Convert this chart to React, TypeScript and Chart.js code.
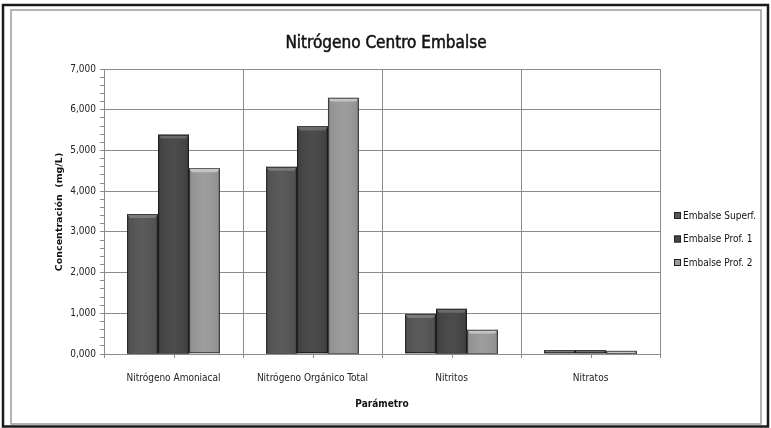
import React, { useEffect, useRef } from "react";
import { Chart, registerables } from "chart.js";

Chart.register(...registerables);

const categories = ["Nitrógeno Amoniacal", "Nitrógeno Orgánico Total", "Nitritos", "Nitratos"];
const seriesNames = ["Embalse Superf.", "Embalse Prof. 1", "Embalse Prof. 2"];
const superf = [3.44, 4.6, 0.98, 0.09];
const prof1 = [5.39, 5.59, 1.11, 0.09];
const prof2 = [4.56, 6.3, 0.6, 0.08];
const seriesColors = ["#565656", "#464646", "#9a9a9a"];
const seriesTopColors = ["#7a7a7a", "#6a6a6a", "#c4c4c4"];
const yMin = 0;
const yMax = 7;
const yStep = 0.2;

const TITLE = "Nitrógeno Centro Embalse";
const Y_TITLE = "Concentración  (mg/L)";
const X_TITLE = "Parámetro";
const NARROW = '"DejaVu Sans Condensed", "Liberation Sans Narrow", Roboto, sans-serif';

const isMajor = (v: number) => Math.abs(v - Math.round(v)) < 1e-6;
const fmt = (v: number) => v.toFixed(3).replace(".", ",");

export default function App() {
  const ref = useRef<HTMLCanvasElement | null>(null);
  useEffect(() => {
    document.body.style.margin = "0";
    const canvas = ref.current!;
    const decor = {
      id: "decor",
      beforeDraw(chart: any) {
        const c = chart.ctx;
        c.save();
        c.fillStyle = "#ffffff";
        c.fillRect(0, 0, chart.width, chart.height);
        c.restore();
      },
      afterDatasetsDraw(chart: any) {
        const c = chart.ctx;
        c.save();
        chart.data.datasets.forEach((ds: any, di: number) => {
          const meta = chart.getDatasetMeta(di);
          meta.data.forEach((bar: any) => {
            const x0 = bar.x - bar.width / 2;
            const x1 = bar.x + bar.width / 2;
            const top = bar.y;
            const bottom = bar.base;
            const h = bottom - top;
            const g = c.createLinearGradient(x0, 0, x1, 0);
            g.addColorStop(0, "rgba(0,0,0,0.3)");
            g.addColorStop(0.08, "rgba(0,0,0,0.05)");
            g.addColorStop(0.5, "rgba(255,255,255,0.03)");
            g.addColorStop(0.92, "rgba(0,0,0,0.05)");
            g.addColorStop(1, "rgba(0,0,0,0.35)");
            c.fillStyle = g;
            c.fillRect(x0, top, x1 - x0, h);
            const bh = Math.min(4, h);
            c.fillStyle = seriesTopColors[di];
            c.beginPath();
            c.moveTo(x0, top);
            c.lineTo(x1, top);
            c.lineTo(x1 - 3, top + bh);
            c.lineTo(x0 + 3, top + bh);
            c.closePath();
            c.fill();
            c.strokeStyle = "rgba(0,0,0,0.5)";
            c.lineWidth = 1;
            c.strokeRect(Math.round(x0) + 0.5, Math.round(top) + 0.5, Math.round(x1 - x0) - 1, Math.round(h) - 1);
          });
        });
        c.restore();
      },
      afterDraw(chart: any) {
        const c = chart.ctx;
        const area = chart.chartArea;
        c.save();
        const xs = chart.scales.x;
        c.strokeStyle = "#8c8c8c";
        c.lineWidth = 1;
        categories.forEach((_, i) => {
          const px = Math.round(xs.getPixelForValue(i)) + 0.5;
          c.beginPath();
          c.moveTo(px, area.bottom);
          c.lineTo(px, area.bottom + 4);
          c.stroke();
        });
        c.fillStyle = "#111";
        c.strokeStyle = "#111";
        c.lineWidth = 0.5;
        c.font = '17px ' + NARROW;
        c.textAlign = "center";
        c.textBaseline = "middle";
        c.fillText(TITLE, 386, 44);
        c.strokeText(TITLE, 386, 44);
        c.save();
        c.translate(60, 212);
        c.rotate(-Math.PI / 2);
        c.font = 'bold 9.5px "DejaVu Sans", sans-serif';
        c.fillStyle = "#111";
        c.fillText(Y_TITLE, 0, 0);
        c.restore();
        c.textAlign = "left";
        c.font = '10px ' + NARROW;
        c.lineWidth = 1;
        seriesNames.forEach((n, i) => {
          const y = 216 + i * 23.5;
          c.fillStyle = seriesColors[i];
          c.fillRect(674, y - 4, 7, 7);
          c.strokeStyle = "#222";
          c.strokeRect(674.5, y - 3.5, 6, 6);
          c.fillStyle = "#111";
          c.fillText(n, 683, y);
        });
        c.strokeStyle = "#1a1a1a";
        c.lineWidth = 2.5;
        c.strokeRect(3, 5, 765, 421.5);
        c.strokeStyle = "#9a9a9a";
        c.lineWidth = 1.5;
        c.strokeRect(11, 10, 750, 414);
        c.restore();
      },
    };
    const chart = new Chart(canvas, {
      type: "bar",
      data: {
        labels: categories,
        datasets: [superf, prof1, prof2].map((d, i) => ({
          label: seriesNames[i],
          data: d,
          backgroundColor: seriesColors[i],
          borderWidth: 0,
          categoryPercentage: 0.667,
          barPercentage: 1,
        })),
      },
      options: {
        responsive: false,
        animation: false,
        events: [],
        layout: { padding: { top: 69, right: 111, left: 0, bottom: 0 } },
        plugins: { legend: { display: false }, title: { display: false }, tooltip: { enabled: false } },
        scales: {
          x: {
            offset: true,
            grid: { offset: true, color: "#8c8c8c", tickColor: "#8c8c8c", tickLength: 4, lineWidth: 1 },
            border: { color: "#8c8c8c" },
            ticks: { color: "#222", font: { family: NARROW, size: 10 }, padding: 14, maxRotation: 0, autoSkip: false },
            title: { display: true, text: X_TITLE, color: "#111", font: { family: NARROW, size: 10, weight: "bold" }, padding: { top: 0, bottom: 18 } },
            afterFit: (s: any) => { s.height = 74; },
          },
          y: {
            min: yMin,
            max: yMax,
            grid: {
              color: (ctx: any) => (ctx.tick && isMajor(ctx.tick.value) ? "#8c8c8c" : "rgba(0,0,0,0)"),
              tickColor: "#8c8c8c",
              tickLength: 4,
            },
            border: { color: "#8c8c8c" },
            ticks: {
              stepSize: yStep,
              autoSkip: false,
              color: "#222",
              font: { family: NARROW, size: 10 },
              padding: 4,
              callback: (v: any) => (isMajor(Number(v)) ? fmt(Math.round(Number(v))) : ""),
            },
            afterFit: (s: any) => { s.width = 104; },
          },
        },
      },
      plugins: [decor],
    });
    return () => chart.destroy();
  }, []);
  return (
    <div style={{ width: 771, height: 428 }}>
      <canvas ref={ref} width={771} height={428} style={{ display: "block" }} />
    </div>
  );
}
